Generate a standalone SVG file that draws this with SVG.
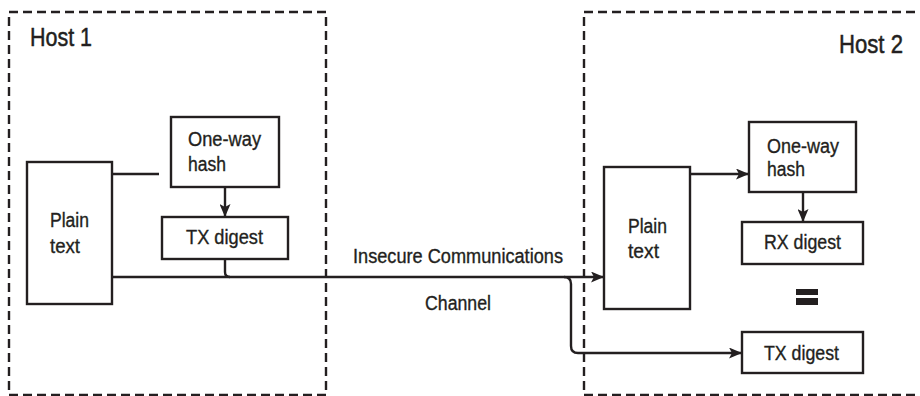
<svg xmlns="http://www.w3.org/2000/svg" width="920" height="396" viewBox="0 0 920 396">
<style>
.host{fill:none;stroke:#231f20;stroke-width:2.4;stroke-dasharray:9 5}
.box{fill:#fff;stroke:#231f20;stroke-width:2.4}
.ln{fill:none;stroke:#231f20;stroke-width:2.4}
text{font-family:"Liberation Sans",Arial,sans-serif;fill:#231f20;stroke:#231f20;stroke-width:0.35;font-size:20px}
.ttl{font-size:26px;stroke-width:0.5}
.c{text-anchor:middle}
</style>
<defs>
<marker id="ah" viewBox="0 0 13 11" refX="12" refY="5.5" markerWidth="13" markerHeight="11" markerUnits="userSpaceOnUse" orient="auto">
<path d="M0,0 L13,5.5 L0,11 L3,5.5 Z" fill="#231f20"/>
</marker>
</defs>
<g id="host1">
<rect class="host" x="9" y="12" width="317" height="383"/>
<text class="ttl" x="30" y="46" textLength="62" lengthAdjust="spacingAndGlyphs">Host 1</text>
</g>
<g id="host2">
<rect class="host" x="584" y="12" width="345" height="383"/>
<text class="ttl" x="839" y="53" textLength="64" lengthAdjust="spacingAndGlyphs">Host 2</text>
</g>
<g id="connectors">
<path class="ln" d="M112,174 H159"/>
<path class="ln" d="M225,187 V216" marker-end="url(#ah)"/>
<path class="ln" d="M225,259 V272 Q225,277 230,277"/>
<path class="ln" d="M112,277 H603" marker-end="url(#ah)"/>
<path class="ln" d="M564,277 Q571,277 571,284 V346 Q571,353 578,353 H741" marker-end="url(#ah)"/>
<path class="ln" d="M690,174 H748" marker-end="url(#ah)"/>
<path class="ln" d="M803,192 V221" marker-end="url(#ah)"/>
</g>
<g id="label-channel">
<text x="353" y="263" textLength="210" lengthAdjust="spacingAndGlyphs">Insecure Communications</text>
<text x="425" y="310" textLength="66" lengthAdjust="spacingAndGlyphs">Channel</text>
</g>
<g id="plain1">
<rect class="box" x="27" y="162" width="85" height="142"/>
<text x="50" y="227" textLength="39" lengthAdjust="spacingAndGlyphs">Plain</text>
<text x="50" y="253" textLength="30" lengthAdjust="spacingAndGlyphs">text</text>
</g>
<g id="hash1">
<rect class="box" x="171" y="117" width="108" height="70"/>
<text x="188" y="146" textLength="73" lengthAdjust="spacingAndGlyphs">One-way</text>
<text x="188" y="171" textLength="38" lengthAdjust="spacingAndGlyphs">hash</text>
</g>
<g id="txdigest1">
<rect class="box" x="162" y="217" width="126" height="42"/>
<text x="186" y="244" textLength="77" lengthAdjust="spacingAndGlyphs">TX digest</text>
</g>
<g id="plain2">
<rect class="box" x="604" y="167" width="86" height="142"/>
<text x="628" y="233" textLength="39" lengthAdjust="spacingAndGlyphs">Plain</text>
<text x="628" y="258" textLength="31" lengthAdjust="spacingAndGlyphs">text</text>
</g>
<g id="hash2">
<rect class="box" x="749" y="122" width="107" height="70"/>
<text x="767" y="153" textLength="72" lengthAdjust="spacingAndGlyphs">One-way</text>
<text x="767" y="176" textLength="38" lengthAdjust="spacingAndGlyphs">hash</text>
</g>
<g id="rxdigest2">
<rect class="box" x="742" y="222" width="121" height="42"/>
<text x="764" y="249" textLength="77" lengthAdjust="spacingAndGlyphs">RX digest</text>
</g>
<g id="equals">
<rect x="796" y="289" width="22" height="6" fill="#231f20"/>
<rect x="796" y="298" width="22" height="7" fill="#231f20"/>
</g>
<g id="txdigest2">
<rect class="box" x="742" y="332" width="121" height="41"/>
<text x="764" y="360" textLength="75" lengthAdjust="spacingAndGlyphs">TX digest</text>
</g>
</svg>
